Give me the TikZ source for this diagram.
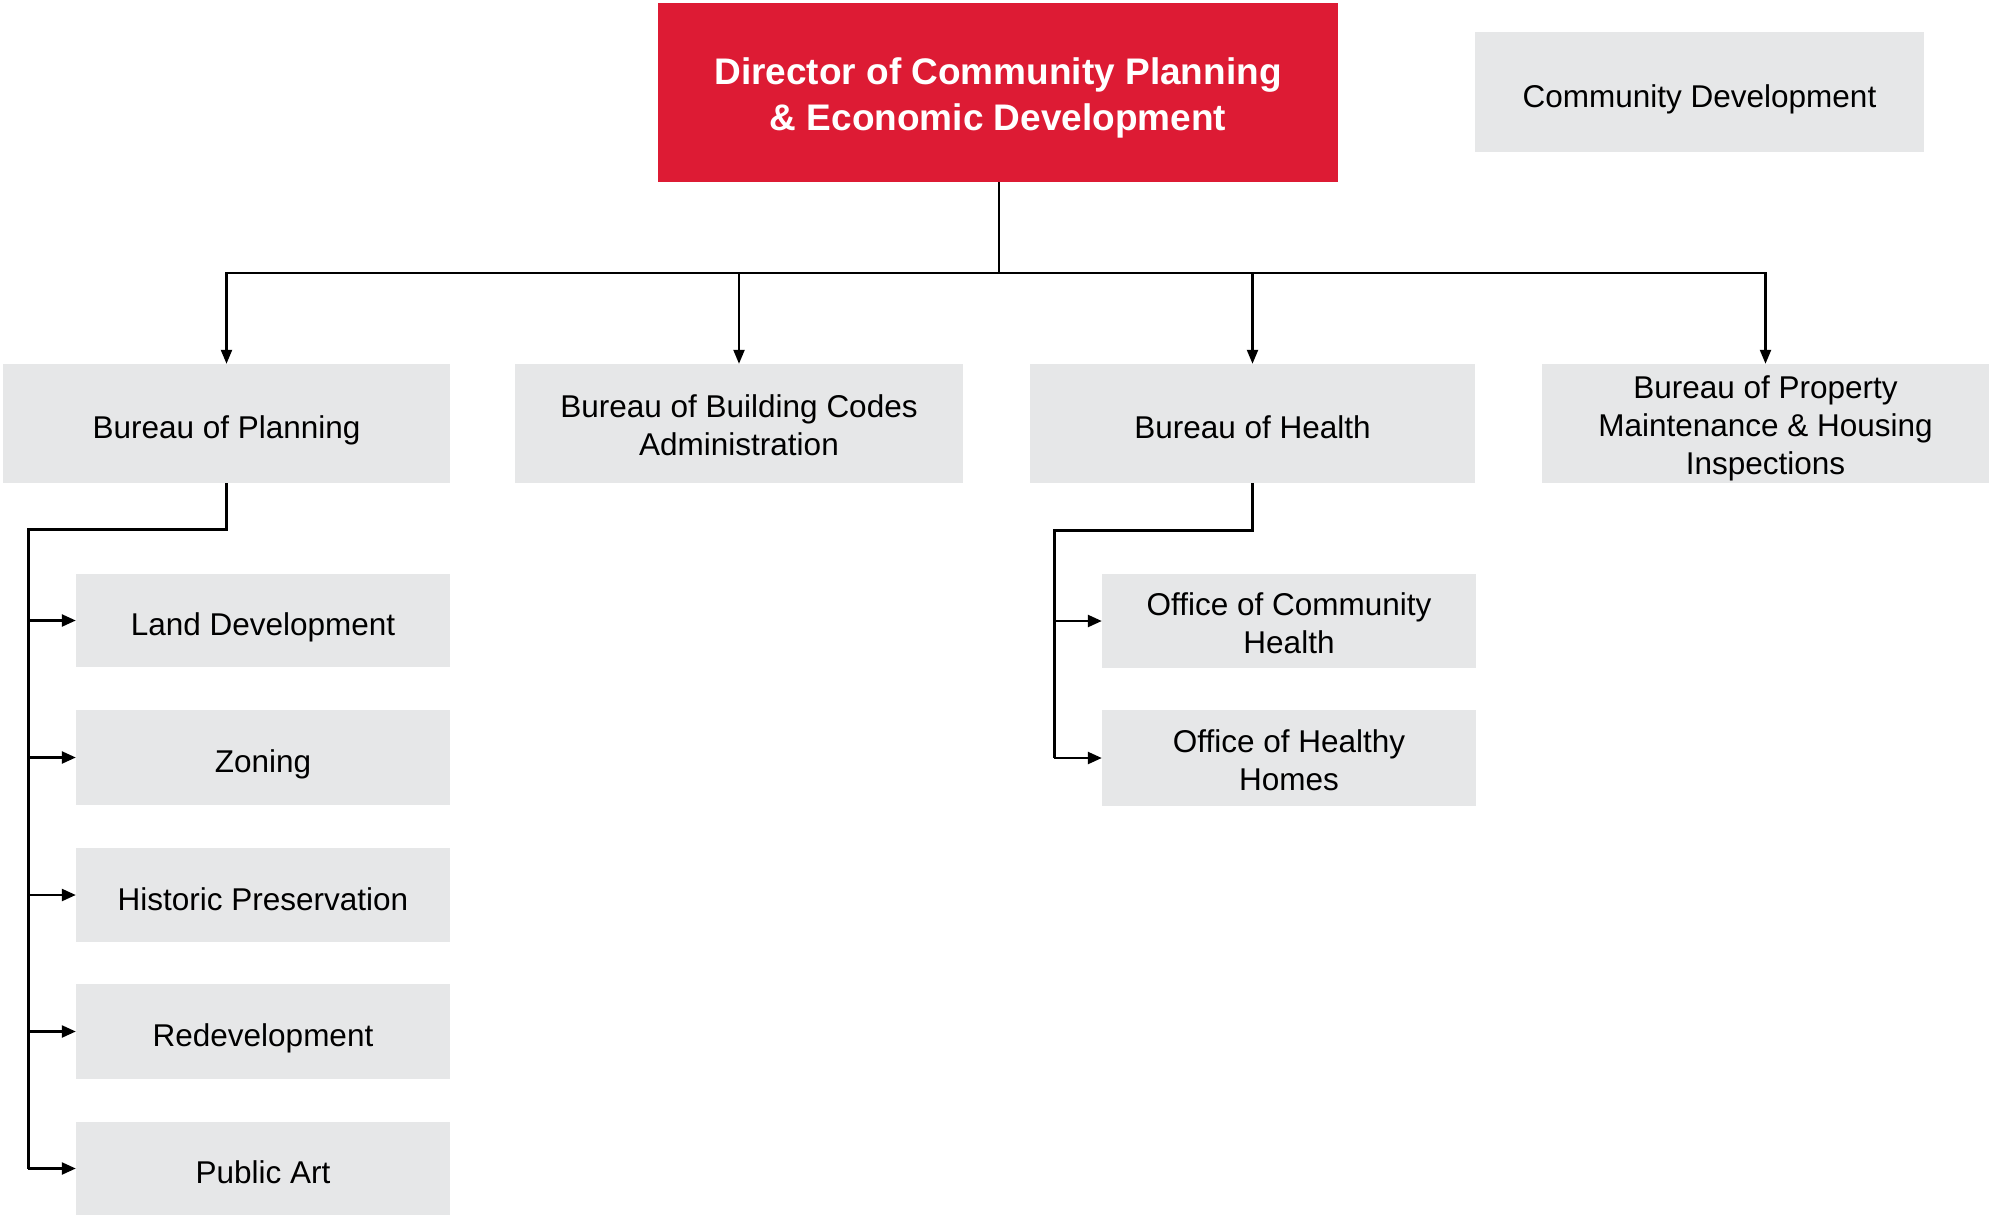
\documentclass[tikz,border=0pt]{standalone}
\usepackage{fontspec}
\setmainfont{Liberation Sans}
\usetikzlibrary{arrows.meta}
\definecolor{dirred}{RGB}{221,27,52}
\definecolor{boxgray}{RGB}{230,231,232}
\begin{document}
\begin{tikzpicture}[x=1pt,y=-1pt,
  dirbox/.style={fill=dirred,inner sep=0pt},
  dirtext/.style={text=white,inner sep=0pt,align=center,yshift=-8.5pt,
    font=\fontsize{37}{46}\selectfont\bfseries,
    execute at begin node=\strut, execute at end node=\strut},
  graybox/.style={fill=boxgray,inner sep=0pt},
  graytext/.style={inner sep=0pt,align=center,yshift=-7.5pt,
    font=\fontsize{31.5}{38}\selectfont,
    execute at begin node=\strut, execute at end node=\strut},
  topline/.style={line width=2.2pt,-{Triangle[length=14pt,width=11pt]}},
  subline/.style={line width=3pt},
  subarrow/.style={line width=2.4pt,-{Triangle[length=14pt,width=12pt]}}]
\useasboundingbox (0,0) rectangle (1991,1215);
\fill[white] (0,0) rectangle (1991,1215);
% top
\node[dirbox,minimum width=680pt,minimum height=179pt,
  label={[dirtext]center:{Director of Community Planning\\\& Economic Development}}] (dir) at (998,92.5) {};
\node[graybox,minimum width=449pt,minimum height=120pt,
  label={[graytext]center:Community Development}] (comm) at (1699.5,92) {};
% bureaus
\node[graybox,minimum width=447pt,minimum height=119pt,
  label={[graytext]center:Bureau of Planning}] (plan) at (226.5,423.5) {};
\node[graybox,minimum width=448pt,minimum height=119pt,
  label={[graytext]center:{Bureau of Building Codes\\Administration}}] (bldg) at (739,423.5) {};
\node[graybox,minimum width=445pt,minimum height=119pt,
  label={[graytext]center:Bureau of Health}] (health) at (1252.5,423.5) {};
\node[graybox,minimum width=447pt,minimum height=119pt,
  label={[graytext]center:{Bureau of Property\\Maintenance \& Housing\\Inspections}}] (prop) at (1765.5,423.5) {};
% planning subs
\node[graybox,minimum width=374pt,minimum height=93pt,
  label={[graytext]center:Land Development}] (land) at (263,620.5) {};
\node[graybox,minimum width=374pt,minimum height=95pt,
  label={[graytext]center:Zoning}] (zon) at (263,757.5) {};
\node[graybox,minimum width=374pt,minimum height=94pt,
  label={[graytext]center:Historic Preservation}] (hist) at (263,895) {};
\node[graybox,minimum width=374pt,minimum height=95pt,
  label={[graytext]center:Redevelopment}] (redev) at (263,1031.5) {};
\node[graybox,minimum width=374pt,minimum height=93pt,
  label={[graytext]center:Public Art}] (art) at (263,1168.5) {};
% health subs
\node[graybox,minimum width=374pt,minimum height=94pt,
  label={[graytext]center:{Office of Community\\Health}}] (och) at (1289,621) {};
\node[graybox,minimum width=374pt,minimum height=96pt,
  label={[graytext]center:{Office of Healthy\\Homes}}] (ohh) at (1289,758) {};
% top connectors
\coordinate (tj) at (999,273);
\draw[line width=2.2pt] (dir.south -| tj) -- (tj);
\draw[topline] (tj) -| (plan.north);
\draw[topline] (tj) -| (bldg.north);
\draw[topline] (tj) -| (health.north);
\draw[topline] (tj) -| (prop.north);
% planning connectors
\coordinate (pj) at (28,529);
\draw[subline] (plan.south) |- (pj) -- (pj |- art.west);
\foreach \n in {land,zon,hist,redev,art}
  \draw[subarrow] (pj |- \n.west) -- (\n.west);
% health connectors
\coordinate (hj) at (1054,530);
\draw[subline] (health.south) |- (hj) -- (hj |- ohh.west);
\foreach \n in {och,ohh}
  \draw[subarrow] (hj |- \n.west) -- (\n.west);
\end{tikzpicture}
\end{document}
